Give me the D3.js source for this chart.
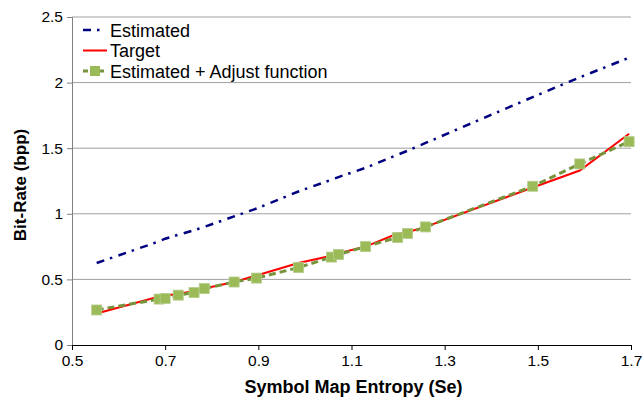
<!DOCTYPE html>
<html>
<head>
<meta charset="utf-8">
<script src="https://cdn.jsdelivr.net/npm/d3@7"></script>
<style>
  body { margin: 0; background: #fff; }
  svg text { font-family: "Liberation Sans", Arial, Helvetica, sans-serif; }
</style>
</head>
<body>
<svg id="chart" width="644" height="402"></svg>
<script>
// entropy values (x) shared by all series
const entropy = [0.553, 0.687, 0.700, 0.728, 0.762, 0.784, 0.848, 0.896, 0.986,
    1.057, 1.072, 1.130, 1.199, 1.220, 1.259, 1.489, 1.590, 1.696];
const estimated = [0.625, 0.79, 0.81, 0.84, 0.875, 0.90, 0.98, 1.04, 1.17,
    1.26, 1.28, 1.35, 1.45, 1.48, 1.54, 1.89, 2.04, 2.19];
const target = [0.24, 0.37, 0.375, 0.39, 0.41, 0.43, 0.48, 0.53, 0.625,
    0.68, 0.70, 0.75, 0.85, 0.86, 0.90, 1.20, 1.33, 1.61];
const adjusted = [0.267, 0.35, 0.355, 0.38, 0.40, 0.43, 0.48, 0.51, 0.59,
    0.67, 0.69, 0.75, 0.82, 0.85, 0.90, 1.21, 1.38, 1.55];
const xTicks = [0.5, 0.7, 0.9, 1.1, 1.3, 1.5, 1.7];
const yTicks = [0, 0.5, 1, 1.5, 2, 2.5];

const margin = { top: 17, right: 13, bottom: 57, left: 72 };
const width = 644 - margin.left - margin.right;
const height = 402 - margin.top - margin.bottom;

const svg = d3.select("#chart");
const g = svg.append("g").attr("transform", `translate(${margin.left},${margin.top})`);

const x = d3.scaleLinear().domain([0.5, 1.7]).range([0, width]);
const y = d3.scaleLinear().domain([0, 2.5]).range([height, 0]);

// gridlines
g.selectAll("line.grid")
    .data(yTicks.filter((d) => d > 0))
    .enter()
    .append("line")
    .attr("class", "grid")
    .attr("x1", 0)
    .attr("x2", width)
    .attr("y1", (d) => y(d))
    .attr("y2", (d) => y(d))
    .attr("stroke", "#a0a0a0")
    .attr("stroke-width", 1);

// axes
const yAxis = g.append("g")
    .call(d3.axisLeft(y).tickValues(yTicks).tickFormat(d3.format("")).tickSize(5).tickPadding(4));
yAxis.select(".domain").attr("stroke", "#808080");
yAxis.selectAll(".tick line").attr("stroke", "#808080");
yAxis.selectAll("text").attr("font-size", 15.5).attr("fill", "#000")
    .style("font-family", "'Liberation Sans', Arial, sans-serif");

const xAxis = g.append("g")
    .attr("transform", `translate(0,${height})`)
    .call(d3.axisBottom(x).tickValues(xTicks).tickFormat(d3.format(".1f")).tickSize(5).tickPadding(5));
xAxis.select(".domain").attr("stroke", "#000");
xAxis.selectAll(".tick line").attr("stroke", "#000");
xAxis.selectAll("text").attr("font-size", 15.5).attr("fill", "#000")
    .style("font-family", "'Liberation Sans', Arial, sans-serif");

// axis titles
svg.append("text")
    .attr("x", margin.left + width / 2 + 2)
    .attr("y", 393)
    .attr("text-anchor", "middle")
    .attr("font-size", 18)
    .attr("font-weight", "bold")
    .text("Symbol Map Entropy (Se)");

svg.append("text")
    .attr("transform", "translate(26,185) rotate(-90)")
    .attr("text-anchor", "middle")
    .attr("font-size", 17)
    .attr("font-weight", "bold")
    .text("Bit-Rate (bpp)");

const line = d3.line().x((d) => x(d[0])).y((d) => y(d[1]));

// estimated (dash-dot navy)
g.append("path")
    .datum(d3.zip(entropy, estimated))
    .attr("d", line)
    .attr("fill", "none")
    .attr("stroke", "#000080")
    .attr("stroke-width", 2.5)
    .attr("stroke-dasharray", "8,6,2.5,6.5");

// target (red)
g.append("path")
    .datum(d3.zip(entropy, target))
    .attr("d", line)
    .attr("fill", "none")
    .attr("stroke", "#ff0000")
    .attr("stroke-width", 2);

// estimated + adjust (green dashed w/ squares)
g.append("path")
    .datum(d3.zip(entropy, adjusted))
    .attr("d", line)
    .attr("fill", "none")
    .attr("stroke", "#77933c")
    .attr("stroke-width", 3)
    .attr("stroke-dasharray", "7,4");

g.selectAll("rect.marker")
    .data(d3.zip(entropy, adjusted))
    .enter()
    .append("rect")
    .attr("class", "marker")
    .attr("x", (d) => x(d[0]) - 5)
    .attr("y", (d) => y(d[1]) - 5)
    .attr("width", 10)
    .attr("height", 10)
    .attr("fill", "#9bbb59")
    .attr("stroke", "#b5cc8a")
    .attr("stroke-width", 0.8);

// legend
const legend = svg.append("g").attr("transform", "translate(83,30)");
const legendItems = ["Estimated", "Target", "Estimated + Adjust function"];
const rowH = 20.5;

legend.append("line")
    .attr("x1", 0).attr("x2", 24).attr("y1", 0).attr("y2", 0)
    .attr("stroke", "#000080").attr("stroke-width", 2.5)
    .attr("stroke-dasharray", "8,6,2.5,10");
legend.append("line")
    .attr("x1", 0).attr("x2", 24).attr("y1", rowH).attr("y2", rowH)
    .attr("stroke", "#ff0000").attr("stroke-width", 2);
legend.append("line")
    .attr("x1", 0).attr("x2", 24).attr("y1", rowH * 2).attr("y2", rowH * 2)
    .attr("stroke", "#77933c").attr("stroke-width", 3)
    .attr("stroke-dasharray", "5,3");
legend.append("rect")
    .attr("x", 7).attr("y", rowH * 2 - 5).attr("width", 10).attr("height", 10)
    .attr("fill", "#9bbb59");

legend.selectAll("text")
    .data(legendItems)
    .enter()
    .append("text")
    .attr("x", 27)
    .attr("y", (d, i) => i * rowH + 6.5)
    .attr("font-size", 18)
    .attr("fill", "#000")
    .text((d) => d);
</script>
</body>
</html>
